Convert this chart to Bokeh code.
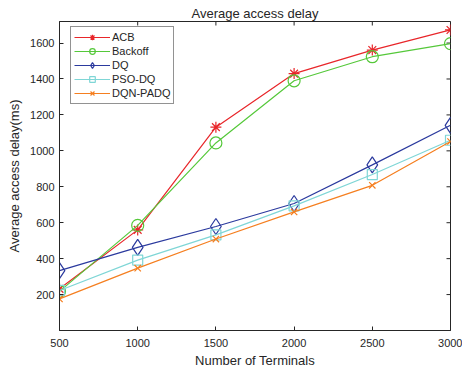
import math
from bokeh.plotting import figure
from bokeh.models import Range1d, FixedTicker, Legend, LegendItem
from bokeh.embed import file_html
from bokeh.resources import INLINE

terminals = [500, 1000, 1500, 2000, 2500, 3000]
acb = [232, 560, 1132, 1430, 1561, 1673]
backoff = [218, 585, 1044, 1390, 1524, 1597]
dq = [333, 463, 579, 707, 922, 1142]
pso_dq = [223, 392, 532, 694, 868, 1059]
dqn_padq = [176, 347, 509, 660, 808, 1052]

x_ticks = [500, 1000, 1500, 2000, 2500, 3000]
y_ticks = [200, 400, 600, 800, 1000, 1200, 1400, 1600]
x_lim = [500, 3000]
y_lim = [0, 1720]

FONT = "Liberation Sans"
INK = "#262626"

p = figure(width=462, height=371, output_backend="svg", toolbar_location=None,
           x_range=Range1d(*x_lim), y_range=Range1d(*y_lim),
           min_border_left=59, min_border_right=12, min_border_top=21, min_border_bottom=41)
p.title.text = "Average access delay"
p.title.align = "center"
p.title.text_font = FONT
p.title.text_font_size = "13px"
p.title.text_font_style = "normal"
p.title.text_color = INK
p.title.offset = 0
p.title.standoff = 1

p.xgrid.visible = False
p.ygrid.visible = False
p.outline_line_color = INK
p.outline_line_width = 1

for ax in (p.xaxis[0], p.yaxis[0]):
    ax.major_tick_in = 4
    ax.major_tick_out = 0
    ax.minor_tick_in = 0
    ax.minor_tick_out = 0
    ax.axis_line_color = INK
    ax.major_tick_line_color = INK
    ax.major_label_text_font = FONT
    ax.major_label_text_font_size = "11px"
    ax.major_label_text_color = INK
    ax.axis_label_text_font = FONT
    ax.axis_label_text_font_size = "13px"
    ax.axis_label_text_font_style = "normal"
    ax.axis_label_text_color = INK
p.xaxis.ticker = FixedTicker(ticks=x_ticks)
p.yaxis.ticker = FixedTicker(ticks=y_ticks)
p.xaxis.axis_label = "Number of Terminals"
p.yaxis.axis_label = "Average access delay(ms)"
p.xaxis.major_label_standoff = 8
p.xaxis.axis_label_standoff = 3
p.yaxis.major_label_standoff = 5
p.yaxis.axis_label_standoff = 5

# box ticks on top and right (half of each dash is clipped by the frame)
p.scatter(x_ticks, [y_lim[1]] * len(x_ticks), marker="dash", size=8,
          angle=math.pi / 2, line_color=INK, line_width=1)
p.scatter([x_lim[1]] * len(y_ticks), y_ticks, marker="dash", size=8,
          line_color=INK, line_width=1)

series = [
    ("ACB", acb, "#e8262a", "asterisk", 11),
    ("Backoff", backoff, "#55c83a", "circle", 12),
    ("DQ", dq, "#2b3a9e", "diamond", 16),
    ("PSO-DQ", pso_dq, "#7fd6d6", "square", 10),
    ("DQN-PADQ", dqn_padq, "#f57f20", "x", 9),
]

items = []
for name, ys, color, marker, size in series:
    r1 = p.line(terminals, ys, line_color=color, line_width=1.2)
    r2 = p.scatter(terminals, ys, marker=marker, size=size, line_color=color,
                   fill_color=None, line_width=1.2)
    items.append(LegendItem(label=name, renderers=[r1, r2]))

legend = Legend(items=items, location=(11, 226))
legend.label_text_font = FONT
legend.label_text_font_size = "11px"
legend.label_text_color = INK
legend.border_line_color = INK
legend.border_line_width = 1
legend.glyph_width = 36
legend.glyph_height = 14
legend.label_height = 14
legend.spacing = 0
legend.padding = 3
legend.margin = 0
legend.label_standoff = 2
p.add_layout(legend, "center")

open("out.html", "w").write(file_html(p, INLINE))
